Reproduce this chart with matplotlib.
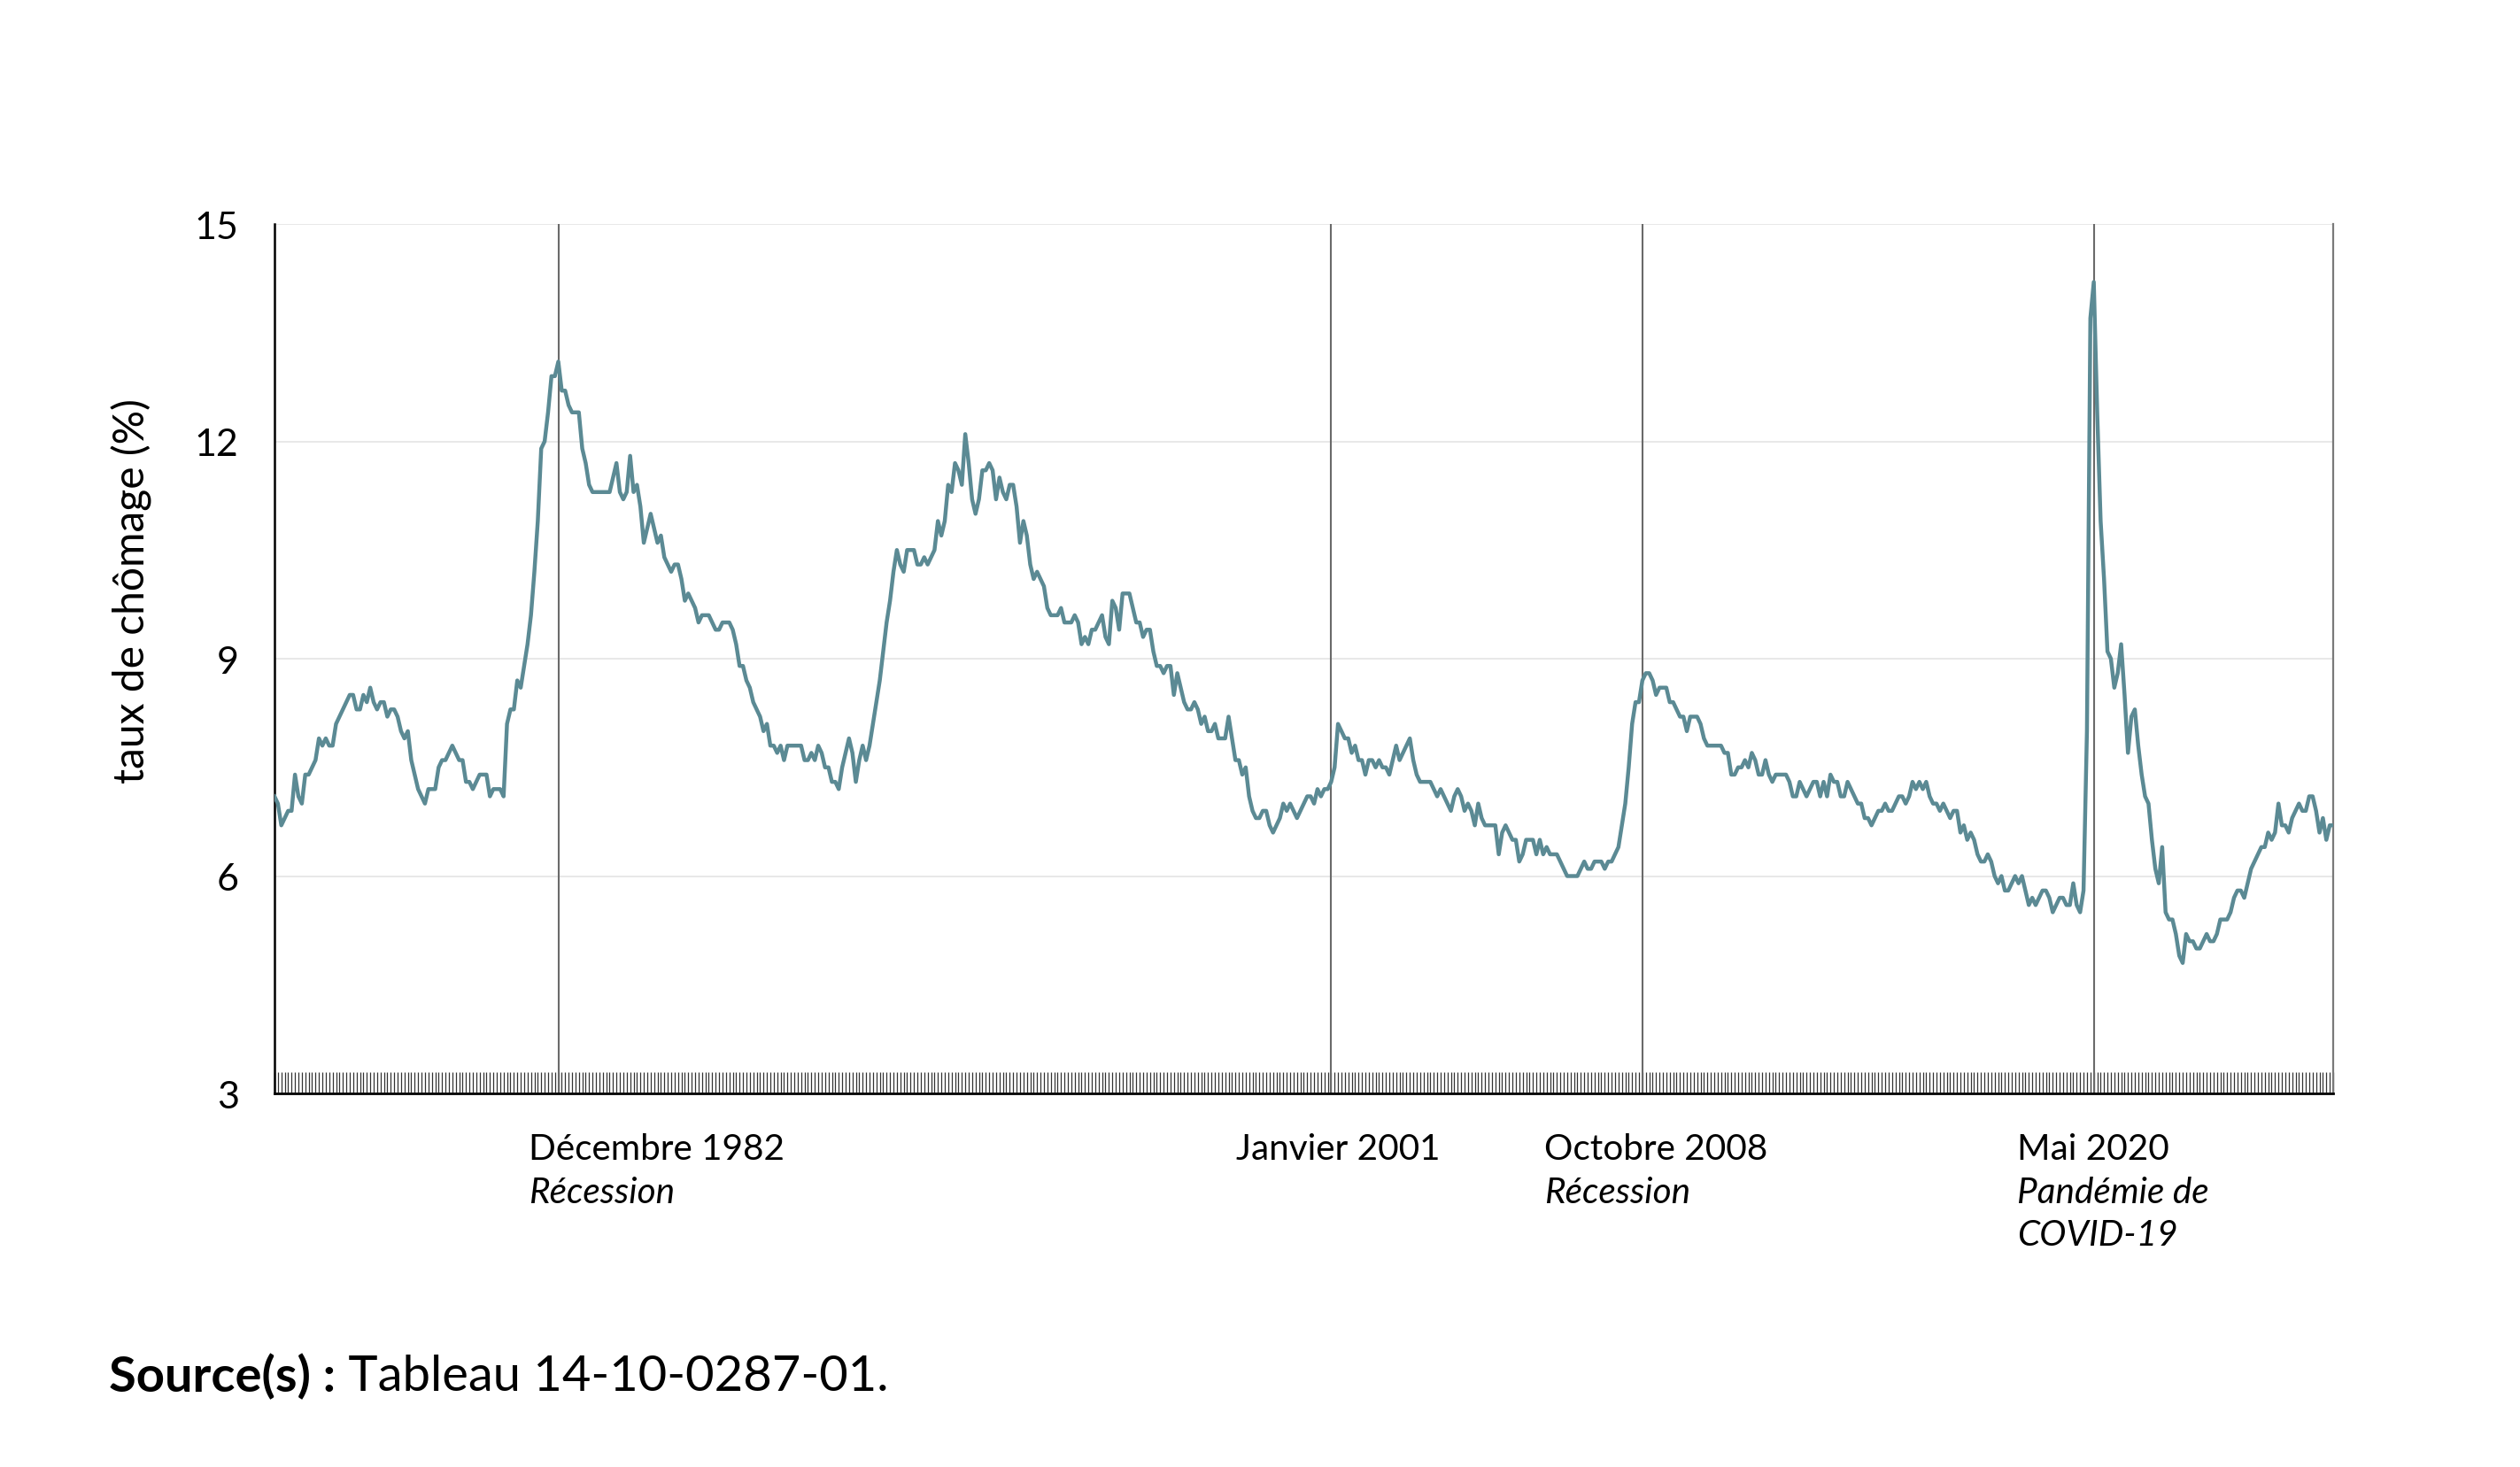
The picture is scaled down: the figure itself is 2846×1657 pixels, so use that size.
import numpy as np
import matplotlib
matplotlib.use("Agg")
import matplotlib.pyplot as plt

# taux de chomage mensuel, janvier 1976 a mars 2026
rates_1976_1979 = [
    7.1, 7.0, 6.7, 6.8, 6.9, 6.9, 7.4, 7.1, 7.0, 7.4, 7.4, 7.5,
    7.6, 7.9, 7.8, 7.9, 7.8, 7.8, 8.1, 8.2, 8.3, 8.4, 8.5, 8.5,
    8.3, 8.3, 8.5, 8.4, 8.6, 8.4, 8.3, 8.4, 8.4, 8.2, 8.3, 8.3,
    8.2, 8.0, 7.9, 8.0, 7.6, 7.4, 7.2, 7.1, 7.0, 7.2, 7.2, 7.2,
]
rates_1980_1989 = [
    7.5, 7.6, 7.6, 7.7, 7.8, 7.7, 7.6, 7.6, 7.3, 7.3, 7.2, 7.3,
    7.4, 7.4, 7.4, 7.1, 7.2, 7.2, 7.2, 7.1, 8.1, 8.3, 8.3, 8.7,
    8.6, 8.9, 9.2, 9.6, 10.2, 10.9, 11.9, 12.0, 12.4, 12.9, 12.9, 13.1,
    12.7, 12.7, 12.5, 12.4, 12.4, 12.4, 11.9, 11.7, 11.4, 11.3, 11.3, 11.3,
    11.3, 11.3, 11.3, 11.5, 11.7, 11.3, 11.2, 11.3, 11.8, 11.3, 11.4, 11.1,
    10.6, 10.8, 11.0, 10.8, 10.6, 10.7, 10.4, 10.3, 10.2, 10.3, 10.3, 10.1,
    9.8, 9.9, 9.8, 9.7, 9.5, 9.6, 9.6, 9.6, 9.5, 9.4, 9.4, 9.5,
    9.5, 9.5, 9.4, 9.2, 8.9, 8.9, 8.7, 8.6, 8.4, 8.3, 8.2, 8.0,
    8.1, 7.8, 7.8, 7.7, 7.8, 7.6, 7.8, 7.8, 7.8, 7.8, 7.8, 7.6,
    7.6, 7.7, 7.6, 7.8, 7.7, 7.5, 7.5, 7.3, 7.3, 7.2, 7.5, 7.7,
]
rates_1990_1999 = [
    7.9, 7.7, 7.3, 7.6, 7.8, 7.6, 7.8, 8.1, 8.4, 8.7, 9.1, 9.5,
    9.8, 10.2, 10.5, 10.3, 10.2, 10.5, 10.5, 10.5, 10.3, 10.3, 10.4, 10.3,
    10.4, 10.5, 10.9, 10.7, 10.9, 11.4, 11.3, 11.7, 11.6, 11.4, 12.1, 11.7,
    11.2, 11.0, 11.2, 11.6, 11.6, 11.7, 11.6, 11.2, 11.5, 11.3, 11.2, 11.4,
    11.4, 11.1, 10.6, 10.9, 10.7, 10.3, 10.1, 10.2, 10.1, 10.0, 9.7, 9.6,
    9.6, 9.6, 9.7, 9.5, 9.5, 9.5, 9.6, 9.5, 9.2, 9.3, 9.2, 9.4,
    9.4, 9.5, 9.6, 9.3, 9.2, 9.8, 9.7, 9.4, 9.9, 9.9, 9.9, 9.7,
    9.5, 9.5, 9.3, 9.4, 9.4, 9.1, 8.9, 8.9, 8.8, 8.9, 8.9, 8.5,
    8.8, 8.6, 8.4, 8.3, 8.3, 8.4, 8.3, 8.1, 8.2, 8.0, 8.0, 8.1,
    7.9, 7.9, 7.9, 8.2, 7.9, 7.6, 7.6, 7.4, 7.5, 7.1, 6.9, 6.8,
]
rates_2000_2009 = [
    6.8, 6.9, 6.9, 6.7, 6.6, 6.7, 6.8, 7.0, 6.9, 7.0, 6.9, 6.8,
    6.9, 7.0, 7.1, 7.1, 7.0, 7.2, 7.1, 7.2, 7.2, 7.3, 7.5, 8.1,
    8.0, 7.9, 7.9, 7.7, 7.8, 7.6, 7.6, 7.4, 7.6, 7.6, 7.5, 7.6,
    7.5, 7.5, 7.4, 7.6, 7.8, 7.6, 7.7, 7.8, 7.9, 7.6, 7.4, 7.3,
    7.3, 7.3, 7.3, 7.2, 7.1, 7.2, 7.1, 7.0, 6.9, 7.1, 7.2, 7.1,
    6.9, 7.0, 6.9, 6.7, 7.0, 6.8, 6.7, 6.7, 6.7, 6.7, 6.3, 6.6,
    6.7, 6.6, 6.5, 6.5, 6.2, 6.3, 6.5, 6.5, 6.5, 6.3, 6.5, 6.3,
    6.4, 6.3, 6.3, 6.3, 6.2, 6.1, 6.0, 6.0, 6.0, 6.0, 6.1, 6.2,
    6.1, 6.1, 6.2, 6.2, 6.2, 6.1, 6.2, 6.2, 6.3, 6.4, 6.7, 7.0,
    7.5, 8.1, 8.4, 8.4, 8.7, 8.8, 8.8, 8.7, 8.5, 8.6, 8.6, 8.6,
]
rates_2010_2019 = [
    8.4, 8.4, 8.3, 8.2, 8.2, 8.0, 8.2, 8.2, 8.2, 8.1, 7.9, 7.8,
    7.8, 7.8, 7.8, 7.8, 7.7, 7.7, 7.4, 7.4, 7.5, 7.5, 7.6, 7.5,
    7.7, 7.6, 7.4, 7.4, 7.6, 7.4, 7.3, 7.4, 7.4, 7.4, 7.4, 7.3,
    7.1, 7.1, 7.3, 7.2, 7.1, 7.2, 7.3, 7.3, 7.1, 7.3, 7.1, 7.4,
    7.3, 7.3, 7.1, 7.1, 7.3, 7.2, 7.1, 7.0, 7.0, 6.8, 6.8, 6.7,
    6.8, 6.9, 6.9, 7.0, 6.9, 6.9, 7.0, 7.1, 7.1, 7.0, 7.1, 7.3,
    7.2, 7.3, 7.2, 7.3, 7.1, 7.0, 7.0, 6.9, 7.0, 6.9, 6.8, 6.9,
    6.9, 6.6, 6.7, 6.5, 6.6, 6.5, 6.3, 6.2, 6.2, 6.3, 6.2, 6.0,
    5.9, 6.0, 5.8, 5.8, 5.9, 6.0, 5.9, 6.0, 5.8, 5.6, 5.7, 5.6,
    5.7, 5.8, 5.8, 5.7, 5.5, 5.6, 5.7, 5.7, 5.6, 5.6, 5.9, 5.6,
]
rates_2020_2026 = [
    5.5, 5.8, 8.0, 13.7, 14.2, 12.4, 10.9, 10.1, 9.1, 9.0, 8.6, 8.8,
    9.2, 8.5, 7.7, 8.2, 8.3, 7.8, 7.4, 7.1, 7.0, 6.5, 6.1, 5.9,
    6.4, 5.5, 5.4, 5.4, 5.2, 4.9, 4.8, 5.2, 5.1, 5.1, 5.0, 5.0,
    5.1, 5.2, 5.1, 5.1, 5.2, 5.4, 5.4, 5.4, 5.5, 5.7, 5.8, 5.8,
    5.7, 5.9, 6.1, 6.2, 6.3, 6.4, 6.4, 6.6, 6.5, 6.6, 7.0, 6.7,
    6.7, 6.6, 6.8, 6.9, 7.0, 6.9, 6.9, 7.1, 7.1, 6.9, 6.6, 6.8,
    6.5, 6.7, 6.7,
]

# evenements (position en mois depuis janvier 1976)
event_titles = ["Décembre 1982", "Janvier 2001", "Octobre 2008", "Mai 2020"]
event_notes = [["Récession"], [], ["Récession"], ["Pandémie de", "COVID-19"]]
event_lines = [83, 309, 400, 532]
event_text_x = [74.4, 281.2, 371.4, 509.6]

y_ticks = [3, 6, 9, 12, 15]

rates = np.array(rates_1976_1979 + rates_1980_1989 + rates_1990_1999
                 + rates_2000_2009 + rates_2010_2019 + rates_2020_2026)
months = np.arange(len(rates))

plt.rcParams["font.family"] = ["Lato", "DejaVu Sans"]

fig = plt.figure(figsize=(14.23, 8.29), dpi=200)
ax = fig.add_axes([0.10892, 0.25452, 0.81694, 0.59228])

ax.set_ylim(3, 15)
ax.set_xlim(0, len(rates) - 1)
ax.set_yticks(y_ticks)
ax.set_yticklabels([str(v) for v in y_ticks])
ax.grid(axis="y", color="#e4e4e4", linewidth=0.6)
ax.set_axisbelow(True)

for pos in event_lines:
    ax.axvline(pos, color="#6a6a6a", linewidth=0.75, zorder=2)

ax.plot(months, rates, color="#5b8a94", linewidth=1.6, zorder=3)

# graduations mensuelles
ax.set_xticks(months)
ax.set_xticklabels([])
ax.tick_params(axis="x", direction="in", length=8.5, width=0.45,
               color="#333333")
ax.tick_params(axis="y", length=0, pad=14.5, labelsize=15.5)

ax.spines["top"].set_visible(False)
ax.spines["left"].set_linewidth(0.9)
ax.spines["bottom"].set_linewidth(1.0)
ax.spines["right"].set_color("#7a7a7a")
ax.spines["right"].set_linewidth(0.8)

tr = ax.get_xaxis_transform()
for x, title, notes in zip(event_text_x, event_titles, event_notes):
    ax.text(x, -0.0754, title, transform=tr, fontsize=14.6, va="baseline",
            ha="left", clip_on=False)
    for k, note in enumerate(notes):
        ax.text(x, -0.1253 - 0.0490 * k, note, transform=tr, fontsize=14.6,
                style="italic", va="baseline", ha="left", clip_on=False)

fig.text(149 / 2846, 1 - 668 / 1658, "taux de chômage (%)", rotation=90,
         ha="center", va="center", fontsize=17.3)

src = fig.text(123 / 2846, 1 - 1572 / 1658, "Source(s) :", fontsize=20.2,
               fontweight="bold", va="baseline", ha="left")
ax.annotate(" Tableau 14-10-0287-01.", xy=(1, 0), xycoords=src,
            va="bottom", ha="left", fontsize=20.2)

fig.savefig("out.png", dpi=200)
